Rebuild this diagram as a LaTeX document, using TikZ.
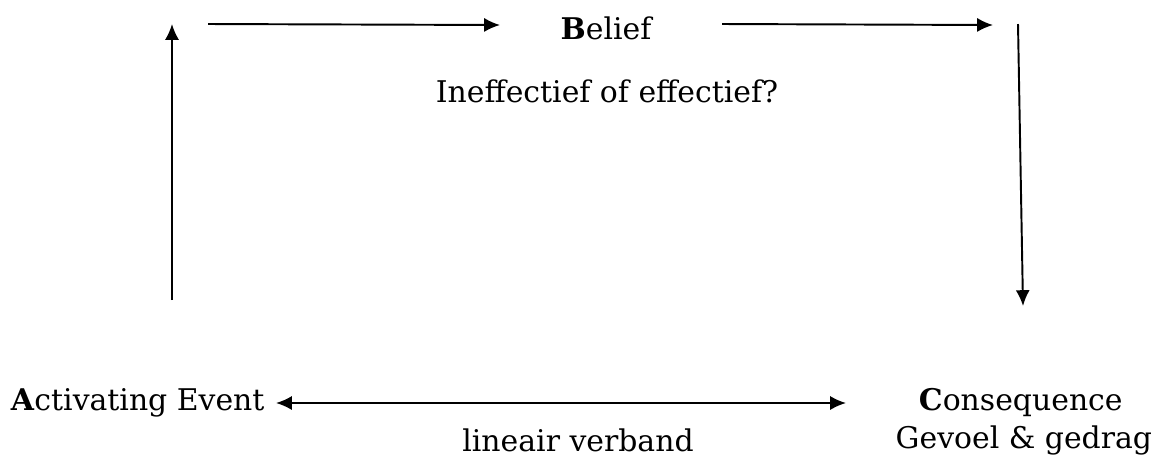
\documentclass[tikz,border=0pt]{standalone}
\usepackage{fontspec}
\setmainfont{DejaVu Serif}
\usepackage {tikz}
\usetikzlibrary {positioning}
\usetikzlibrary{arrows.meta}
\tikzset{edge/.style = {->,> = {Latex[length=9pt,width=8pt]}}}
\tikzset{twoway/.style = {<->,> = {Latex[length=9pt,width=8pt]}}}

\begin{document}
\begin{tikzpicture}[x=0.02cm,y=-0.02cm,line width=1.1pt,label node/.style={inner sep=0pt,font=\fontsize{17}{20}\selectfont}]
            \useasboundingbox (0,0) rectangle (1162,458);
            \node[label node] (belief) at (606,28) {\textbf{B}elief};
            \node[label node] (vraag) at (607,91) {Ineffectief of effectief?};
            \node[label node,anchor=west] (event) at (10,403) {\textbf{A}ctivating Event};
            \node[label node,anchor=west] (cons) at (918,403) {\textbf{C}onsequence};
            \node[label node,anchor=east] (gevoel) at (1153,440) {Gevoel \& gedrag};
            \node[label node] (verband) at (578,440) {lineair verband};
            \coordinate (up1) at (172,300);
            \coordinate (up2) at (172,24);
            \coordinate (top1) at (208,24);
            \coordinate (top2) at (500,25);
            \coordinate (top3) at (722,24);
            \coordinate (top4) at (993,25);
            \coordinate (down1) at (1018,24);
            \coordinate (down2) at (1023,306);
            \coordinate (mid1) at (276,403);
            \coordinate (mid2) at (846,403);
            \draw[edge] (up1) to[] (up2);
            \draw[edge] (top1) to[] (top2);
            \draw[edge] (top3) to[] (top4);
            \draw[edge] (down1) to[] (down2);
            \draw[twoway] (mid1) to[] (mid2);
        \end{tikzpicture}
\end{document}
